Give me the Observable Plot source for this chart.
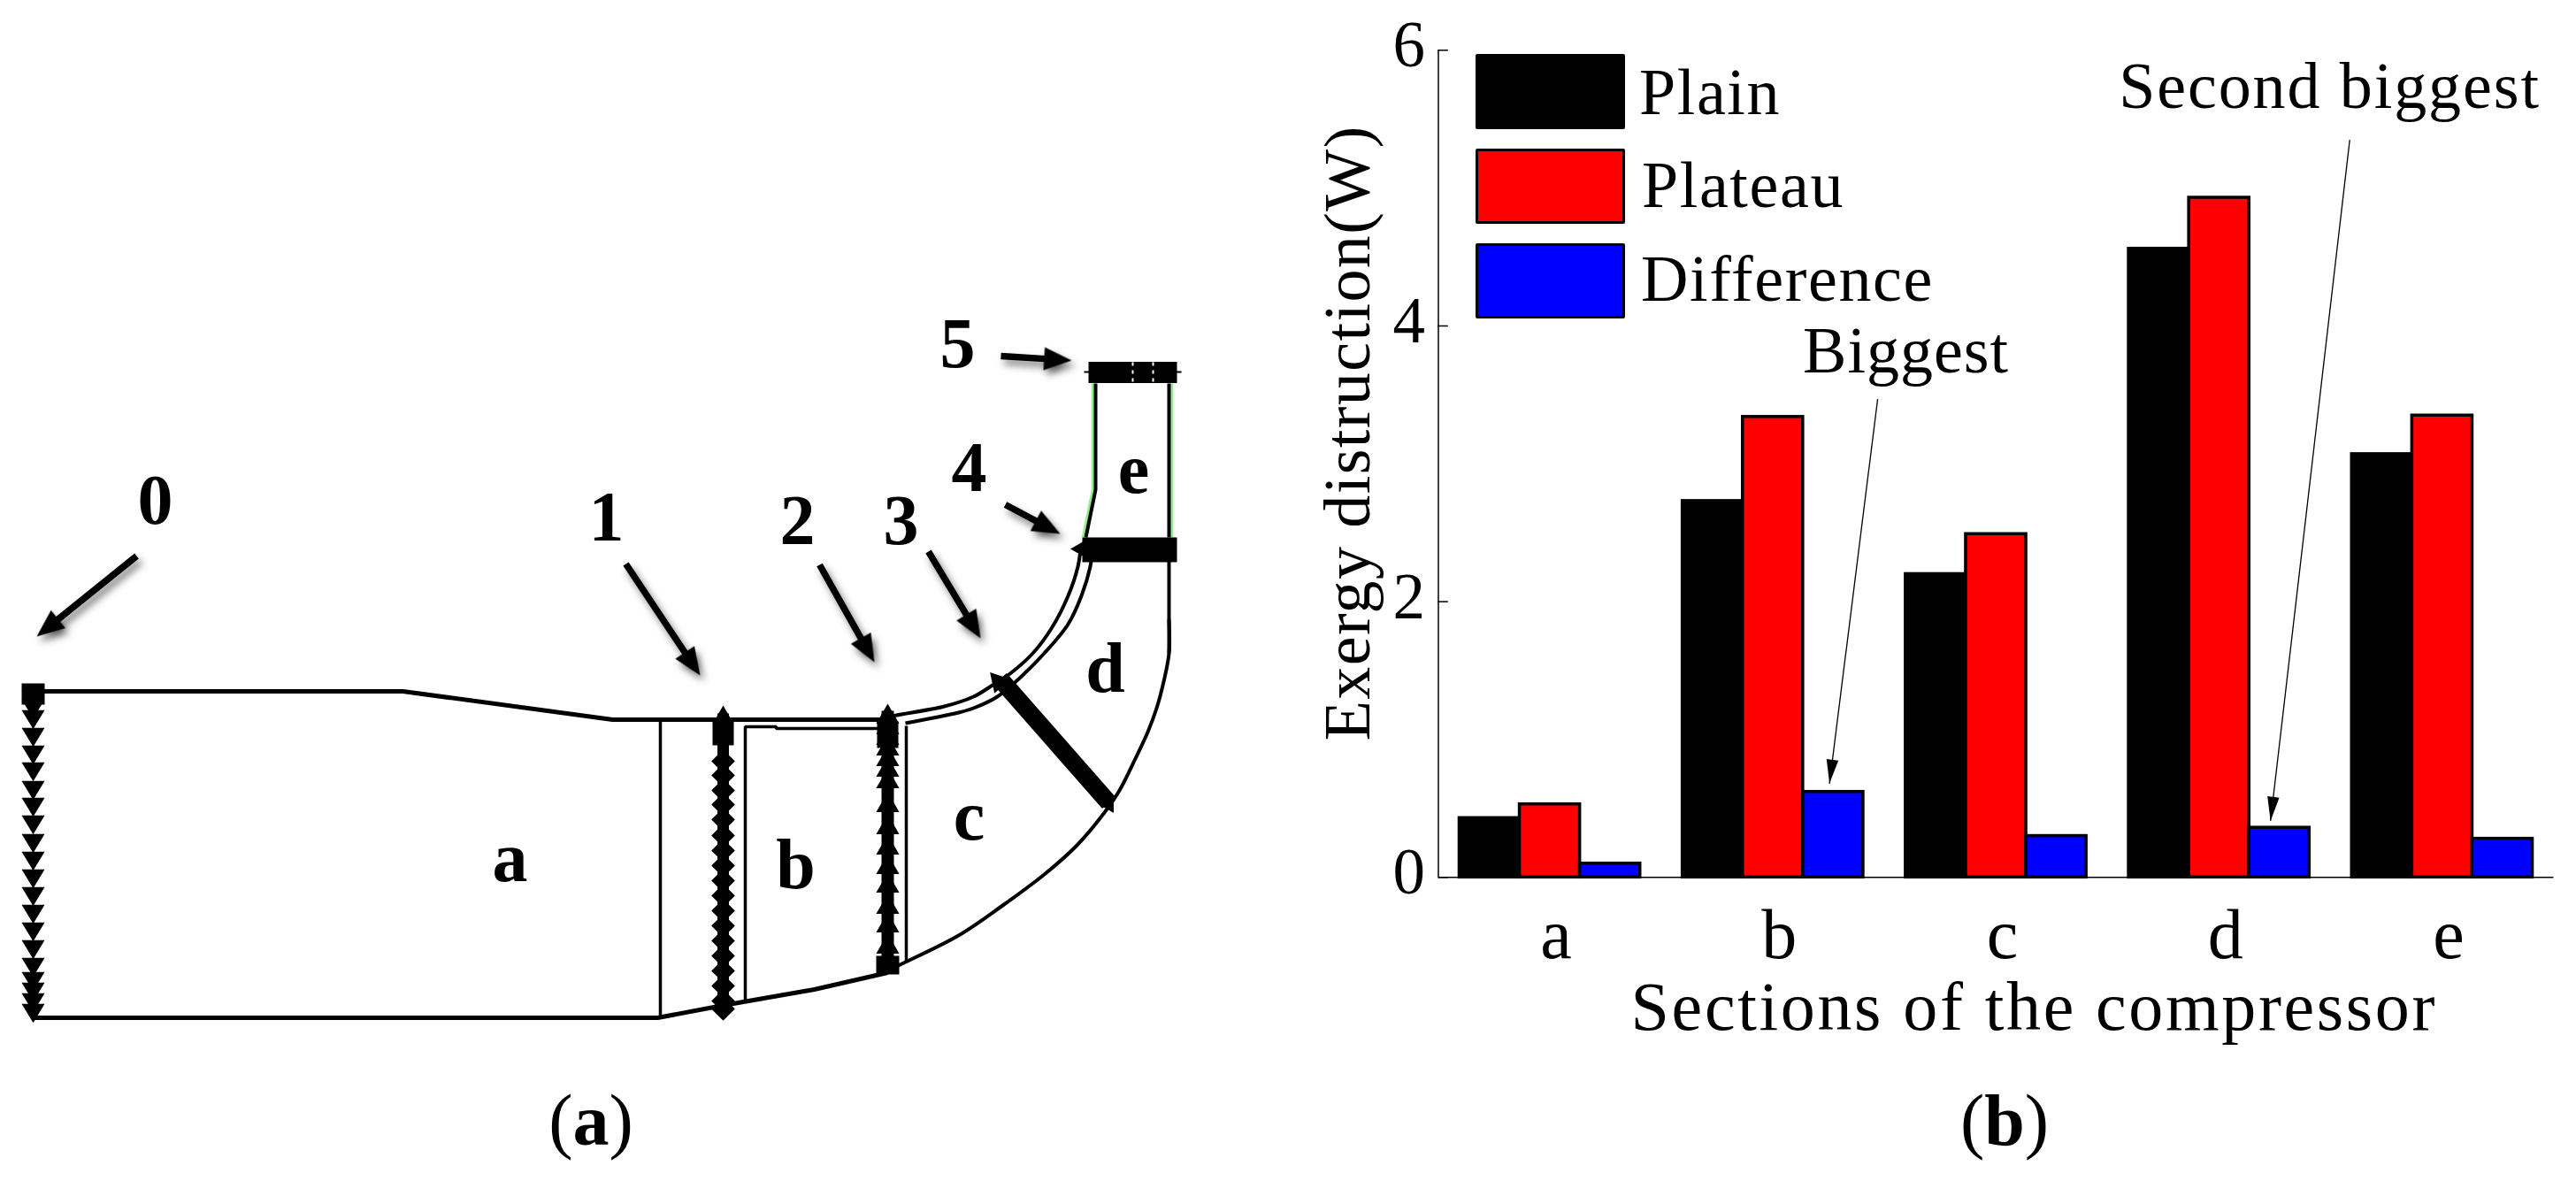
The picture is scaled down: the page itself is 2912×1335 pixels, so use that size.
<!DOCTYPE html>
<html><head><meta charset="utf-8">
<script src="https://cdn.jsdelivr.net/npm/d3@7"></script>
<script src="https://cdn.jsdelivr.net/npm/@observablehq/plot@0.6"></script>
<style>
html,body{margin:0;padding:0;background:#fff;width:2912px;height:1335px;overflow:hidden}
#page{position:relative;width:2912px;height:1335px;font-family:"Liberation Serif",serif;color:#000}
#left,#right{position:absolute;top:0}
#left{left:0}#right{left:1460px}
.sw{position:absolute;left:1668px;width:169px;height:85px;border:3.5px solid #000;box-sizing:border-box;border-radius:2px}
.lt{position:absolute;font-size:74px;line-height:1;letter-spacing:1.6px;white-space:nowrap}
.cap{position:absolute;top:1226px;font-size:82px;line-height:1;transform:translateX(-50%)}
svg text{font-family:"Liberation Serif",serif}
</style></head><body>
<div id="page"><div id="left"></div><div id="right"></div></div>
<script>
// ---------- panel (b) data ----------
const sections=["a","b","c","d","e"];
const seriesNames=["Plain","Plateau","Difference"];
const seriesColors=["#000000","#ff0000","#0000ff"];
const plain=[0.43,2.73,2.20,4.56,3.07];
const plateau=[0.53,3.34,2.49,4.93,3.35];
const difference=[0.10,0.62,0.30,0.36,0.28];
const yTicks=[0,2,4,6];
const xLabel="Sections of the compressor";
const yLabel="Exergy distruction(W)";
const notes=[{t:"Biggest",x:2.596,y:3.66,tx:2.469,ty:3.47,hx:2.253,hy:0.68},
             {t:"Second biggest",x:4.495,y:5.58,tx:4.585,ty:5.35,hx:4.23,hy:0.41}];
// ---------- panel (a) diagram geometry ----------
const hubTop=[[37,781],[455,781],[692,813],[1003,813]];
const hubBottom=[[37,1150],[743,1150],[817,1136],[920,1118],[1003,1099]];
const outerCurve=[[1003,1097],[1017,1090],[1083,1057],[1133,1023],[1180,988],[1217,955],[1248,918],[1265,893],[1283,857],[1297,827],[1307,800],[1315,770],[1321,738],[1321,700]];
const wallD=[[1321,632],[1321,738]];
const upperA=[[1005,810],[1013,808],[1067,798],[1100,787],[1120,775],[1140,762],[1167,738],[1188,710],[1207,673],[1218,640],[1221,620]];
const upperB=[[1023,817],[1083,805],[1100,800],[1127,787],[1150,768],[1180,738],[1207,705],[1222,673],[1232,640],[1234,625]];
const lineAB=[[746,815],[746,1150]];
const boxB=[[842,1131],[842,821],[877,821],[877,823],[1003,823]];
const lineC=[[1024,820],[1024,1088]];
const eLeft=[[1238,433],[1238,553],[1227,607]];
const eRight=[[1321,433],[1321,607]];
const section0Block=[[37,772],[37,796]];
const section1Block=[[817,815],[817,842]];
const section1Stem=[[817,806],[817,1146]];
const section2Block=[[1003,1080],[1003,1101]];
const section2Stem=[[1003,803],[1003,1095]];
const section2Top=[[1003,815],[1003,845]];
const section3=[[1130,767],[1253,907]];
const section4=[[1223,621],[1330,621]];
const section5=[[1230,420.5],[1330,420.5]];
const section5Thin=[[1225,420],[1335,420]];
const s0y=[790,800,812,832,852,871,892,911,931,952,972,992,1012,1032,1052,1072,1092,1108,1120,1132,1144];
const s1y=[860,876,893,909,926,944,961,978,995,1012,1029,1046,1063,1080,1097,1114,1131,1140];
const s2y=[810,822,834,846,858,870,883,910,935,958,980,1001,1025,1046,1070];
const digitLabels=[["0",175,591],["1",685,610],["2",901,614],["3",1018,614],["4",1095,554],["5",1082,414]];
const letterLabels=[["a",576,995],["b",899,1003],["c",1095,948],["d",1249,781],["e",1281,556]];
const bigArrows=[[154,628,41,719],[707,637,791,763],[926,638,988,748],[1049,623,1108,721],[1136,570,1198,603],[1131,402,1211,407]];

const headSymbol=(w,l)=>({draw(ctx,size){const s=Math.sqrt(size/Math.PI);
  ctx.moveTo(0,0);ctx.lineTo(-w*s,l*s);ctx.lineTo(w*s,l*s);ctx.closePath();}});
const downTriangle={draw(c,size){const k=Math.sqrt(size/Math.PI);c.moveTo(-k,-0.75*k);c.lineTo(k,-0.75*k);c.lineTo(0,0.9*k);c.closePath();}};
const line=(pts,o={})=>Plot.line(pts,{x:d=>d[0],y:d=>d[1],stroke:"#000",strokeWidth:4,strokeLinecap:"butt",strokeLinejoin:"miter",...o});
const shadow=(i,s,v,d,c,next)=>{const g=next(i,s,v,d,c);g.style.filter="drop-shadow(4px 6px 4px rgba(0,0,0,.5))";return g;};
const shaftEnd=d=>{const L=Math.hypot(d[2]-d[0],d[3]-d[1]);return [d[2]-(d[2]-d[0])/L*18,d[3]-(d[3]-d[1])/L*18];};

// ---------- panel (a) ----------
const leftPlot=Plot.plot({width:1460,height:1335,margin:0,
  x:{domain:[0,1460],range:[0,1460],axis:null},
  y:{domain:[0,1335],range:[0,1335],axis:null},
  marks:[
    line(eLeft,{stroke:"#90ee90",strokeWidth:3.5,dx:-3}),line(eRight,{stroke:"#90ee90",strokeWidth:3.5,dx:3}),
    line(hubTop,{strokeWidth:5}),line(hubBottom,{strokeWidth:5}),
    line(outerCurve,{curve:"catmull-rom",strokeWidth:4}),line(wallD),
    line(upperA,{curve:"catmull-rom"}),line(upperB,{curve:"catmull-rom"}),
    line(lineAB,{strokeWidth:3.5}),line(boxB,{strokeWidth:3.5}),line(lineC,{strokeWidth:3.5}),
    line(eLeft),line(eRight),
    line(section0Block,{strokeWidth:26}),
    line(section1Stem,{strokeWidth:13}),line(section1Block,{strokeWidth:24}),
    line(section2Stem,{strokeWidth:14}),line(section2Top,{strokeWidth:24}),line(section2Block,{strokeWidth:26}),
    line(section3,{strokeWidth:20}),line(section4,{strokeWidth:28}),line(section5,{strokeWidth:24}),
    line(section5Thin,{strokeWidth:2}),
    line([[1280,409],[1280,432]],{stroke:"#fff",strokeWidth:2,strokeDasharray:"4,5"}),
    line([[1303,409],[1303,432]],{stroke:"#fff",strokeWidth:2,strokeDasharray:"4,5"}),
    Plot.dot(s0y,{x:()=>37,y:d=>d,r:13,symbol:downTriangle,fill:"#000"}),
    Plot.dot([[817,811]],{x:d=>d[0],y:d=>d[1],r:9,symbol:"triangle",fill:"#000"}),
    Plot.dot(s1y,{x:()=>817,y:d=>d,r:12,symbol:"diamond2",fill:"#000"}),
    Plot.dot(s2y,{x:()=>1003,y:d=>d,r:9.7,symbol:"triangle",fill:"#000"}),
    Plot.dot([[1128,770]],{x:d=>d[0],y:d=>d[1],r:9,symbol:"triangle",fill:"#000",rotate:-42}),
    Plot.dot([[1253,909]],{x:d=>d[0],y:d=>d[1],r:7,symbol:"triangle",fill:"#000",rotate:150}),
    Plot.dot([[1222,620]],{x:d=>d[0],y:d=>d[1],r:8,symbol:"triangle",fill:"#000",rotate:-90}),
    Plot.text(digitLabels,{x:d=>d[1],y:d=>d[2],text:d=>d[0],fontSize:80,fontWeight:"bold",textAnchor:"middle",lineAnchor:"bottom"}),
    Plot.text(letterLabels,{x:d=>d[1],y:d=>d[2],text:d=>d[0],fontSize:80,fontWeight:"bold",textAnchor:"middle",lineAnchor:"bottom"}),
    Plot.link(bigArrows,{x1:d=>d[0],y1:d=>d[1],x2:d=>shaftEnd(d)[0],y2:d=>shaftEnd(d)[1],stroke:"#000",strokeWidth:7.5,render:shadow}),
    Plot.dot(bigArrows,{x:d=>d[2],y:d=>d[3],r:25,symbol:headSymbol(0.52,1.25),fill:"#000",
      rotate:d=>Math.atan2(d[2]-d[0],d[1]-d[3])*180/Math.PI,render:shadow})
  ]});
document.getElementById("left").append(leftPlot);

// ---------- panel (b) ----------
const barW=0.27;
const rows=sections.flatMap((s,i)=>[plain,plateau,difference].map((v,j)=>({
  section:s,series:seriesNames[j],value:v[i],
  x1:i+1+(j-1.5)*barW,x2:i+1+(j-0.5)*barW})));
const pxPerX=252.2,pxPerY=155.8;
const rightPlot=Plot.plot({width:1452,height:1335,marginLeft:165.5,marginRight:25.5,marginTop:56.3,marginBottom:343.7,
  style:{background:"transparent"},
  x:{domain:[0.5,5.5],axis:null},
  y:{domain:[0,6],axis:null},
  color:{domain:seriesNames,range:seriesColors},
  marks:[
    Plot.rectY(rows,{x1:"x1",x2:"x2",y1:()=>0,y2:"value",fill:"series",stroke:"#000",strokeWidth:3.5}),
    Plot.ruleX([0.5],{stroke:"#000",strokeWidth:1.5}),
    Plot.ruleY([0],{stroke:"#000",strokeWidth:1.5}),
    Plot.ruleY(yTicks,{x1:()=>0.5,x2:()=>0.545,stroke:"#000",strokeWidth:1.5}),
    Plot.axisY({ticks:yTicks,tickSize:0,tickPadding:15,fontSize:73,label:null,dy:-5,tickFormat:d=>d}),
    Plot.axisX({ticks:[1,2,3,4,5],tickSize:0,tickPadding:34,fontSize:80,label:null,dx:7,tickFormat:d=>sections[d-1]}),
    Plot.text([xLabel],{x:()=>3.17,y:()=>0,text:d=>d,dy:172,fontSize:78,textAnchor:"middle",lineAnchor:"bottom"}),
    Plot.text([yLabel],{x:()=>0.5,y:()=>3.224,text:d=>d,dx:-102,rotate:-90,fontSize:74,textAnchor:"middle"}),
    Plot.text(notes,{x:"x",y:"y",text:"t",fontSize:74,textAnchor:"middle",lineAnchor:"bottom"}),
    Plot.link(notes,{x1:"tx",y1:"ty",x2:"hx",y2:"hy",stroke:"#000",strokeWidth:1.3}),
    Plot.dot(notes,{x:"hx",y:"hy",r:16,symbol:headSymbol(0.42,1.7),fill:"#000",
      rotate:d=>Math.atan2((d.hx-d.tx)*pxPerX,-(d.ty-d.hy)*pxPerY)*180/Math.PI})
  ]});
document.getElementById("right").append(rightPlot);
const spacing={[xLabel]:"2.65px",[yLabel]:"1.4px","Second biggest":"1.9px","Biggest":"1px"};
rightPlot.querySelectorAll("text").forEach(t=>{const k=spacing[t.textContent];if(k)t.style.letterSpacing=k;});

// ---------- legend and captions ----------
const page=document.getElementById("page");
const legendTops=[61,167.7,275];
const legendTextTops=[67,172,278];
const legendTextLefts=[1853,1856,1855];
seriesNames.forEach((n,i)=>{
  const s=document.createElement("div");s.className="sw";s.style.top=legendTops[i]+"px";s.style.background=seriesColors[i];page.append(s);
  const t=document.createElement("div");t.className="lt";t.style.top=legendTextTops[i]+"px";t.style.left=legendTextLefts[i]+"px";t.textContent=n;page.append(t);
});
[["a",668],["b",2266]].forEach(([c,x])=>{
  const d=document.createElement("div");d.className="cap";d.style.left=x+"px";d.innerHTML="(<b>"+c+"</b>)";page.append(d);
});
</script>
</body></html>
